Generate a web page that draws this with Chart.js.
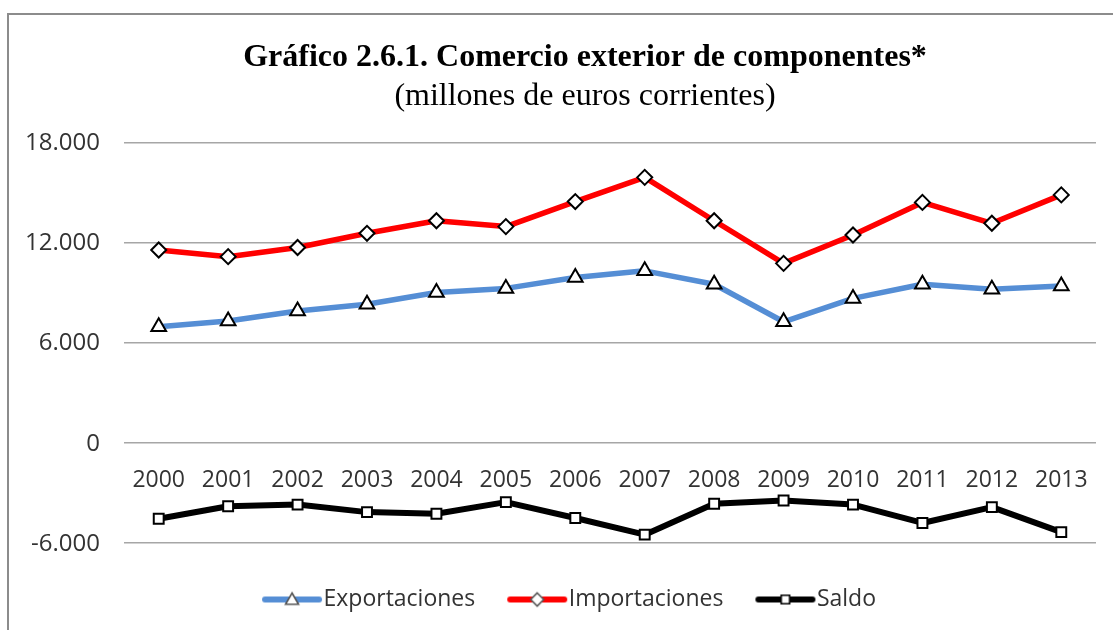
<!DOCTYPE html>
<html>
<head>
<meta charset="utf-8">
<script src="https://cdn.jsdelivr.net/npm/chart.js@4.4.1/dist/chart.umd.min.js"></script>
<style>
html,body{margin:0;padding:0;background:#fff;overflow:hidden}
#wrap{width:1113px;height:630px;position:relative}
</style>
</head>
<body>
<div id="wrap"><canvas id="c" width="1113" height="630"></canvas></div>
<script>
// ---- data ----
const years = ['2000','2001','2002','2003','2004','2005','2006','2007','2008','2009','2010','2011','2012','2013'];
const exportaciones = [6950, 7300, 7900, 8300, 9000, 9250, 9900, 10300, 9500, 7250, 8650, 9500, 9200, 9400];
const importaciones = [11550, 11150, 11700, 12550, 13300, 12950, 14450, 15900, 13300, 10750, 12450, 14400, 13150, 14850];
const saldo = [-4550, -3800, -3700, -4150, -4250, -3550, -4500, -5500, -3650, -3450, -3700, -4800, -3850, -5350];
const yTicks = [-6000, 0, 6000, 12000, 18000];
const seriesNames = ['Exportaciones', 'Importaciones', 'Saldo'];
const titleText = 'Gráfico 2.6.1. Comercio exterior de componentes*';
const subtitleText = '(millones de euros corrientes)';

// ---- styles ----
const COLORS = ['#558ed5', '#ff0000', '#000000'];
const LINE_W = [5.5, 5.5, 6];
const POINT_STYLES = ['triangle', 'rectRot', 'rect'];
const POINT_R = [8.5, 7.5, 7];
const AXIS_FONT = {family: "'Open Sans', 'Noto Sans', sans-serif", size: 23};
const Y_FONT = {family: "'Open Sans', 'Noto Sans', sans-serif", size: 24};
const TEXT_COLOR = '#333333';

function fmt(v) {
  return String(v).replace(/\B(?=(\d{3})+(?!\d))/g, '.');
}

function drawMarker(ctx, style, x, y, r, stroke) {
  ctx.beginPath();
  if (style === 'triangle') {
    ctx.moveTo(x, y - r);
    ctx.lineTo(x + r * 0.866, y + r * 0.5);
    ctx.lineTo(x - r * 0.866, y + r * 0.5);
    ctx.closePath();
  } else if (style === 'rectRot') {
    ctx.moveTo(x, y - r);
    ctx.lineTo(x + r, y);
    ctx.lineTo(x, y + r);
    ctx.lineTo(x - r, y);
    ctx.closePath();
  } else {
    const s = r * Math.SQRT1_2;
    ctx.rect(x - s, y - s, 2 * s, 2 * s);
  }
  ctx.fillStyle = '#ffffff';
  ctx.fill();
  ctx.lineWidth = 1.6;
  ctx.strokeStyle = stroke;
  ctx.stroke();
}

function legendIcon(i) {
  const cv = document.createElement('canvas');
  cv.width = 62; cv.height = 22;
  const ctx = cv.getContext('2d');
  ctx.strokeStyle = COLORS[i];
  ctx.lineWidth = 6;
  ctx.lineCap = 'round';
  ctx.beginPath();
  ctx.moveTo(4, 11);
  ctx.lineTo(58, 11);
  ctx.stroke();
  drawMarker(ctx, POINT_STYLES[i], 31, i === 0 ? 12 : 11, POINT_R[i] - 1, i === 2 ? '#000000' : '#555555');
  return cv;
}
const legendIcons = [0, 1, 2].map(legendIcon);

const frameAndShift = {
  id: 'frameAndShift',
  beforeDraw(chart) {
    const ctx = chart.ctx;
    ctx.save();
    ctx.fillStyle = '#ffffff';
    ctx.fillRect(0, 0, chart.width, chart.height);
    ctx.strokeStyle = '#8c8c8c';
    ctx.lineWidth = 2;
    ctx.strokeRect(8, 14, 1300, 800);
    ctx.restore();
  },
  afterLayout(chart) {
    chart.boxes.forEach(b => {
      if (b !== chart.legend && b.options && typeof b.options.text === 'string') {
        b.left += 37; b.right += 37;
      }
    });
    const lg = chart.legend;
    if (lg) {
      lg.left += 26; lg.right += 26;
      lg.top = 546; lg.bottom = chart.height;
      lg.height = lg.bottom - lg.top;
    }
  }
};

const datasets = [exportaciones, importaciones, saldo].map((data, i) => ({
  label: seriesNames[i],
  data: data,
  borderColor: COLORS[i],
  backgroundColor: '#ffffff',
  borderWidth: LINE_W[i],
  tension: 0,
  borderJoinStyle: 'round',
  borderCapStyle: 'round',
  pointStyle: POINT_STYLES[i],
  pointRadius: POINT_R[i],
  pointHoverRadius: POINT_R[i],
  pointBorderColor: '#000000',
  pointBackgroundColor: '#ffffff',
  pointBorderWidth: 2,
  fill: false
}));

new Chart(document.getElementById('c'), {
  type: 'line',
  data: {labels: years, datasets: datasets},
  plugins: [frameAndShift],
  options: {
    responsive: false,
    animation: false,
    devicePixelRatio: 1,
    layout: {padding: {left: 0, right: 17, top: 0, bottom: 57}},
    plugins: {
      tooltip: {enabled: false},
      title: {
        display: true,
        text: titleText,
        color: '#000000',
        font: {family: "'Liberation Serif', 'Times New Roman', serif", size: 32, weight: 'bold'},
        padding: {top: 39, bottom: 0}
      },
      subtitle: {
        display: true,
        text: subtitleText,
        color: '#000000',
        font: {family: "'Liberation Serif', 'Times New Roman', serif", size: 32, weight: 'normal'},
        padding: {top: 0, bottom: 26.5}
      },
      legend: {
        position: 'bottom',
        maxHeight: 30,
        labels: {
          usePointStyle: true,
          pointStyleWidth: 40,
          padding: 42,
          color: TEXT_COLOR,
          font: AXIS_FONT,
          generateLabels: () => seriesNames.map((n, i) => ({
            text: n,
            pointStyle: legendIcons[i],
            fillStyle: COLORS[i],
            strokeStyle: COLORS[i],
            lineWidth: 0,
            hidden: false,
            datasetIndex: i,
            fontColor: TEXT_COLOR
          }))
        }
      }
    },
    scales: {
      x: {
        type: 'category',
        offset: true,
        position: {y: 0},
        grid: {display: false, drawTicks: false},
        border: {display: false},
        ticks: {color: TEXT_COLOR, font: AXIS_FONT, padding: 24, maxRotation: 0, autoSkip: false}
      },
      y: {
        min: -6000,
        max: 18000,
        afterBuildTicks: s => { s.ticks = yTicks.map(v => ({value: v})); },
        afterFit: s => { s.width = 124; },
        grid: {color: '#a6a6a6', lineWidth: 1.5, drawTicks: false},
        border: {display: false},
        ticks: {color: TEXT_COLOR, font: Y_FONT, padding: 24, labelOffset: 1, callback: v => fmt(v)}
      }
    }
  }
});
</script>
</body>
</html>
